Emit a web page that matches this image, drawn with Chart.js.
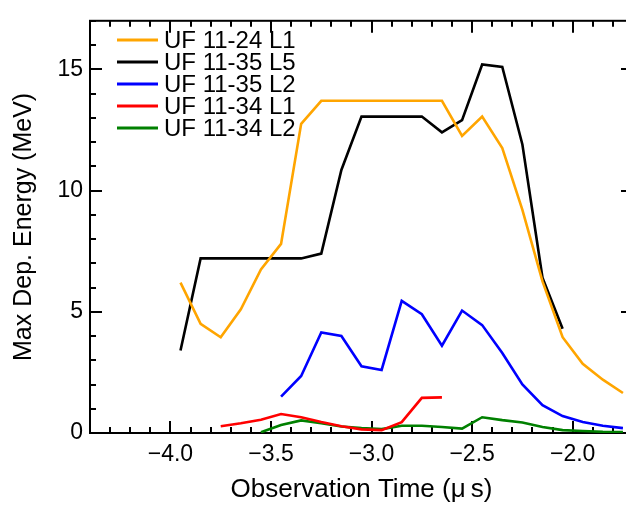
<!DOCTYPE html>
<html>
<head>
<meta charset="utf-8">
<script src="https://cdn.jsdelivr.net/npm/chart.js@4.4.1/dist/chart.umd.min.js"></script>
<style>
  html, body { margin: 0; padding: 0; background: #fff; overflow: hidden; }
  #wrap { width: 640px; height: 506px; }
</style>
</head>
<body>
<div id="wrap"><canvas id="energyChart" width="640" height="506"></canvas></div>
<script>
// Max deposited energy vs observation time, one trace per detector

const timeUF1124L1 = [-3.95, -3.85, -3.75, -3.65, -3.55, -3.45, -3.35, -3.25, -3.15, -3.05, -2.95, -2.85,
                      -2.75, -2.65, -2.55, -2.45, -2.35, -2.25, -2.15, -2.05, -1.95, -1.85, -1.75];
const energyUF1124L1 = [6.2, 4.5, 3.95, 5.1, 6.75, 7.8, 12.75, 13.7, 13.7, 13.7, 13.7, 13.7,
                        13.7, 13.7, 12.25, 13.05, 11.75, 9.2, 6.25, 3.95, 2.85, 2.2, 1.65];

const timeUF1135L5 = [-3.95, -3.85, -3.75, -3.65, -3.55, -3.45, -3.35, -3.25, -3.15, -3.05,
                      -2.95, -2.85, -2.75, -2.65, -2.55, -2.45, -2.35, -2.25, -2.15, -2.05];
const energyUF1135L5 = [3.4, 7.2, 7.2, 7.2, 7.2, 7.2, 7.2, 7.4, 10.85, 13.05,
                        13.05, 13.05, 13.05, 12.4, 12.9, 15.2, 15.1, 11.9, 6.4, 4.3];

const timeUF1135L2 = [-3.45, -3.35, -3.25, -3.15, -3.05, -2.95, -2.85, -2.75, -2.65,
                      -2.55, -2.45, -2.35, -2.25, -2.15, -2.05, -1.95, -1.85, -1.75];
const energyUF1135L2 = [1.5, 2.35, 4.15, 4.0, 2.75, 2.6, 5.45, 4.9, 3.6,
                        5.05, 4.45, 3.3, 2.0, 1.15, 0.7, 0.45, 0.3, 0.2];

const timeUF1134L1 = [-3.75, -3.65, -3.55, -3.45, -3.35, -3.25, -3.15, -3.05, -2.95, -2.85, -2.75, -2.65];
const energyUF1134L1 = [0.28, 0.4, 0.55, 0.78, 0.65, 0.45, 0.28, 0.15, 0.12, 0.45, 1.45, 1.47];

const timeUF1134L2 = [-3.55, -3.45, -3.35, -3.25, -3.15, -3.05, -2.95, -2.85, -2.75, -2.65,
                      -2.55, -2.45, -2.35, -2.25, -2.15, -2.05, -1.95, -1.85, -1.75];
const energyUF1134L2 = [0.03, 0.33, 0.52, 0.4, 0.27, 0.2, 0.16, 0.3, 0.3, 0.25,
                        0.18, 0.65, 0.53, 0.43, 0.25, 0.12, 0.08, 0.05, 0.04];

const seriesLabels = ['UF 11-24 L1', 'UF 11-35 L5', 'UF 11-35 L2', 'UF 11-34 L1', 'UF 11-34 L2'];
const seriesColors = ['#ffa500', '#000000', '#0000ff', '#ff0000', '#008000'];

const xTickValues = [-4.0, -3.5, -3.0, -2.5, -2.0];
const yTickValues = [0, 5, 10, 15];

const FONT = '"Liberation Sans", Arial, sans-serif';

function toPoints(xs, ys) {
    return xs.map((x, i) => ({ x: x, y: ys[i] }));
}

const allTimes = [timeUF1124L1, timeUF1135L5, timeUF1135L2, timeUF1134L1, timeUF1134L2];
const allEnergies = [energyUF1124L1, energyUF1135L5, energyUF1135L2, energyUF1134L1, energyUF1134L2];

const datasets = seriesLabels.map((label, i) => ({
    label: label,
    data: toPoints(allTimes[i], allEnergies[i]),
    borderColor: seriesColors[i],
    backgroundColor: seriesColors[i],
    borderWidth: 2.6,
    pointRadius: 0,
    showLine: true,
    tension: 0,
    fill: false
}));

// frame with inward major/minor ticks on all four sides
const framePlugin = {
    id: 'frame',
    beforeDatasetsDraw(chart) {
        const { ctx, chartArea: a, scales: { x, y } } = chart;
        ctx.save();
        ctx.strokeStyle = '#000';
        ctx.lineWidth = 2;
        ctx.strokeRect(a.left, a.top, a.right - a.left, a.bottom - a.top);
        ctx.beginPath();
        for (let v = -4.4; v <= -1.7 + 1e-9; v += 0.1) {
            const t = Math.round(v * 10) / 10;
            const px = Math.round(x.getPixelForValue(t));
            const len = Math.abs(t * 2 - Math.round(t * 2)) < 1e-6 ? 12 : 6;
            ctx.moveTo(px, a.bottom); ctx.lineTo(px, a.bottom - len);
            ctx.moveTo(px, a.top); ctx.lineTo(px, a.top + len);
        }
        for (let v = 0; v <= 17; v += 1) {
            const py = Math.round(y.getPixelForValue(v));
            const len = v % 5 === 0 ? 12 : 6;
            ctx.moveTo(a.left, py); ctx.lineTo(a.left + len, py);
            ctx.moveTo(a.right, py); ctx.lineTo(a.right - len, py);
        }
        ctx.stroke();
        ctx.restore();
    }
};

// legend in the upper left of the plot area
const legendPlugin = {
    id: 'insetLegend',
    afterDraw(chart) {
        const { ctx } = chart;
        ctx.save();
        ctx.font = '24px ' + FONT;
        ctx.textBaseline = 'middle';
        ctx.textAlign = 'left';
        chart.data.datasets.forEach((ds, i) => {
            const rowY = 40 + i * 22;
            ctx.strokeStyle = ds.borderColor;
            ctx.lineWidth = 3;
            ctx.beginPath();
            ctx.moveTo(117, rowY);
            ctx.lineTo(158, rowY);
            ctx.stroke();
            ctx.fillStyle = '#000';
            ctx.fillText(ds.label, 164, rowY + 1);
        });
        ctx.restore();
    }
};

new Chart(document.getElementById('energyChart'), {
    type: 'scatter',
    data: { datasets: datasets },
    options: {
        responsive: false,
        animation: false,
        layout: { padding: { left: 0, top: 16, right: 7, bottom: 0 } },
        plugins: { legend: { display: false }, tooltip: { enabled: false } },
        scales: {
            x: {
                type: 'linear',
                min: -4.4,
                max: -1.7,
                afterFit(scale) { scale.height = 73; },
                afterBuildTicks(scale) { scale.ticks = xTickValues.map(v => ({ value: v })); },
                grid: { display: false, drawTicks: false },
                border: { display: false },
                ticks: {
                    padding: 8,
                    color: '#000',
                    font: { family: FONT, size: 23 },
                    maxRotation: 0,
                    callback: v => v.toFixed(1).replace('-', '\u2212')
                },
                title: {
                    display: true,
                    text: 'Observation Time (\u03bc\u2009s)',
                    color: '#000',
                    font: { family: FONT, size: 26 },
                    padding: { top: 0, bottom: 1 }
                }
            },
            y: {
                type: 'linear',
                min: 0,
                max: 17,
                afterFit(scale) { scale.width = 90; },
                afterBuildTicks(scale) { scale.ticks = yTickValues.map(v => ({ value: v })); },
                grid: { display: false, drawTicks: false },
                border: { display: false },
                ticks: {
                    padding: 7,
                    color: '#000',
                    font: { family: FONT, size: 23 },
                    callback: v => String(v)
                },
                title: {
                    display: true,
                    text: 'Max Dep. Energy (MeV)',
                    color: '#000',
                    font: { family: FONT, size: 25 },
                    padding: { top: 9, bottom: 0 }
                }
            }
        }
    },
    plugins: [framePlugin, legendPlugin]
});
</script>
</body>
</html>
